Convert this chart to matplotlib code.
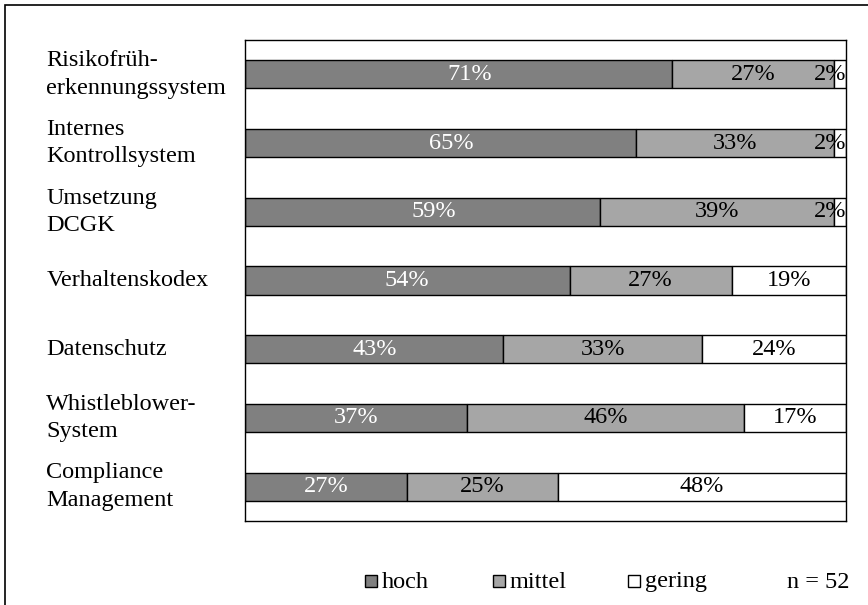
import matplotlib.pyplot as plt
from matplotlib.patches import Rectangle
import numpy as np

plt.rcParams['font.family'] = ['Liberation Serif', 'DejaVu Serif']

kategorien = ["Risikofrüh-\nerkennungssystem", "Internes\nKontrollsystem", "Umsetzung\nDCGK",
              "Verhaltenskodex", "Datenschutz", "Whistleblower-\nSystem", "Compliance\nManagement"]
hoch = [71, 65, 59, 54, 43, 37, 27]
mittel = [27, 33, 39, 27, 33, 46, 25]
gering = [2, 2, 2, 19, 24, 17, 48]

serien = ["hoch", "mittel", "gering"]
farben = ["#808080", "#a6a6a6", "#ffffff"]
textfarben = ["white", "black", "black"]

fs = 17.5

fig = plt.figure(figsize=(8.68, 6.05), dpi=100)
ax = fig.add_axes([0.2823, 0.1388, 0.6924, 0.7951])

y = np.arange(len(kategorien))
links = np.zeros(len(kategorien))
for i, (werte, farbe, tf) in enumerate(zip([hoch, mittel, gering], farben, textfarben)):
    werte = np.array(werte)
    ax.barh(y, werte, left=links, height=0.41, color=farbe, edgecolor="black", linewidth=1)
    for yi, l, w in zip(y, links, werte):
        if w <= 3:
            # zu schmal: Beschriftung rechtsbündig am Rand
            ax.text(l + w, yi, f"{w}%", ha="right", va="center", color=tf, fontsize=fs)
        else:
            # in den oberen Zeilen sitzt die "hoch"-Beschriftung etwas weiter rechts
            dx = 8 if (i == 0 and yi < 3) else 0
            ax.annotate(f"{w}%", (l + w / 2, yi), xytext=(dx, 0), textcoords="offset points",
                        ha="center", va="center", color=tf, fontsize=fs)
    links = links + werte

ax.set_xlim(0, 100)
ax.set_ylim(len(kategorien) - 0.5, -0.5)
ax.set_xticks([])
ax.set_yticks([])
for s in ax.spines.values():
    s.set_linewidth(1)

# Kategorien links, linksbündig
for yi, k in zip(y, kategorien):
    ax.text(-0.3305, yi, k, transform=ax.get_yaxis_transform(), ha="left", va="center",
            fontsize=fs, linespacing=1.4)

# Legende unten
W, H = 868, 605
for xq, name, farbe in zip([365, 493, 628], serien, farben):
    fig.add_artist(Rectangle((xq / W, 1 - 587 / H), 12 / W, 12 / H, transform=fig.transFigure,
                             facecolor=farbe, edgecolor="black", linewidth=1))
    fig.text((xq + 17) / W, 1 - 582 / H, name, ha="left", va="center", fontsize=fs)
fig.text(787 / W, 1 - 582 / H, "n = 52", ha="left", va="center", fontsize=fs)

# Rahmen um die Grafik
fig.add_artist(Rectangle((5 / W, -0.1), 1.2, 1 - 5 / H + 0.1, transform=fig.transFigure,
                         facecolor="none", edgecolor="black", linewidth=1.2))

fig.savefig("out.png", dpi=100)
